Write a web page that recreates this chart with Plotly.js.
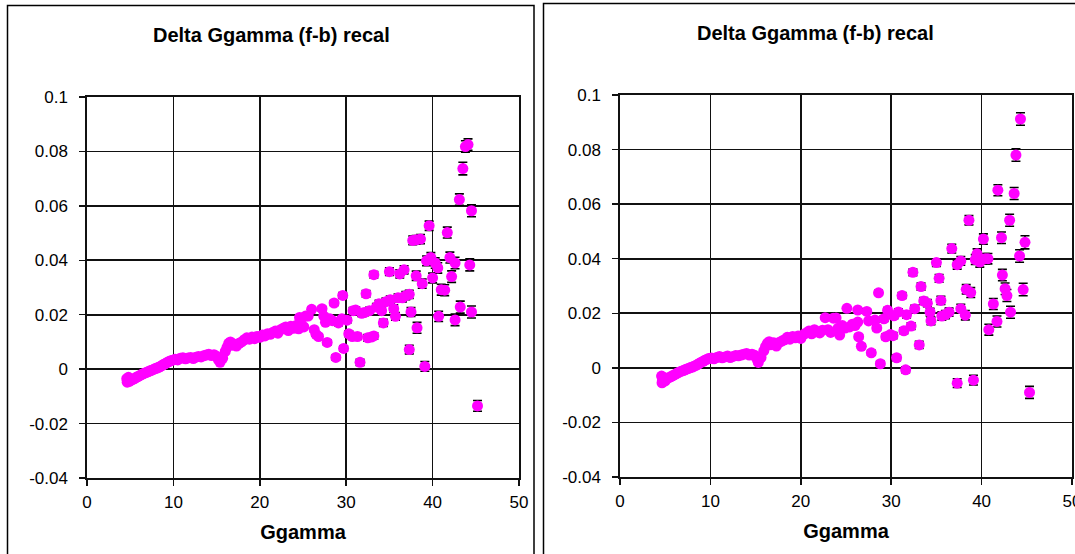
<!DOCTYPE html>
<html><head><meta charset="utf-8">
<script src="https://cdn.plot.ly/plotly-3.0.1.min.js"></script>
<style>html,body{margin:0;padding:0;background:#fff}#chart{width:1075px;height:554px}</style>
</head><body><div id="chart"></div>
<script>
const chartTitle = "Delta Ggamma (f-b) recal";
const xAxisTitle = "Ggamma";
const xTickVals = [0, 10, 20, 30, 40, 50];
const yTickVals = [-0.04, -0.02, 0, 0.02, 0.04, 0.06, 0.08, 0.1];
const yTickText = ["-0.04", "-0.02", "0", "0.02", "0.04", "0.06", "0.08", "0.1"];

// ---- Left panel: dense low-Ggamma band ----
const leftDenseX = [4.6,4.65,4.7,4.8,4.9,5.1,5.3,5.5,5.7,5.9,
  6.1,6.3,6.5,6.7,6.9,7.1,7.3,7.5,7.7,7.9,
  8.1,8.3,8.5,8.7,8.9,9.1,9.3,9.5,9.7,9.9,
  10.2,10.5,10.8,11.1,11.4,11.7,12.0,12.3,12.6,12.9,
  13.2,13.5,13.8,14.1,14.4,14.7,15.0,15.2,15.4,15.7,
  16.0,16.2,16.4,16.6,16.8,17.0,17.3,17.6,17.9,18.2,
  18.5,18.8,19.1,19.4,19.7,20.0,20.3,20.6,20.9,21.2,
  21.5,21.8,22.1,22.4,22.7,23.0,23.3,23.6,23.9,24.2,
  24.5,24.8,25.1];
const leftDenseY = [-0.0035,-0.0048,-0.0042,-0.0030,-0.0045,-0.0040,-0.0038,-0.0035,-0.0030,-0.0027,
  -0.0024,-0.0020,-0.0017,-0.0014,-0.0012,-0.0009,-0.0006,-0.0004,-0.0001,0.0002,
  0.0004,0.0007,0.0010,0.0014,0.0018,0.0021,0.0025,0.0028,0.0031,0.0033,
  0.0036,0.0034,0.0040,0.0042,0.0038,0.0041,0.0043,0.0039,0.0044,0.0046,
  0.0045,0.0049,0.0052,0.0055,0.0050,0.0053,0.0047,0.0035,0.0025,0.0040,
  0.0065,0.0080,0.0095,0.0100,0.0088,0.0092,0.0085,0.0095,0.0100,0.0108,
  0.0115,0.0110,0.0118,0.0112,0.0120,0.0117,0.0125,0.0122,0.0130,0.0128,
  0.0135,0.0140,0.0132,0.0145,0.0150,0.0155,0.0142,0.0158,0.0150,0.0160,
  0.0148,0.0165,0.0155];
const leftDenseErr = 0.0005;

// ---- Left panel: scattered high-Ggamma points ----
const leftOuterX = [24.6,25.3,25.6,26.0,26.3,26.5,26.8,27.2,27.4,27.6,
  27.8,28.1,28.4,28.6,28.8,29.1,29.5,29.6,29.7,30.1,
  30.3,30.7,30.8,31.1,31.3,31.6,31.8,32.1,32.3,32.5,
  32.7,32.9,33.2,33.2,33.5,33.8,34.1,34.3,34.6,35.0,
  35.1,35.5,35.7,36.0,36.2,36.5,36.7,36.9,37.3,37.3,
  37.5,37.7,38.1,38.1,38.2,38.6,38.8,39.1,39.3,39.6,
  39.8,40.0,40.3,40.6,40.7,41.0,41.4,41.7,42.0,42.2,
  42.6,42.6,43.1,43.2,43.5,43.8,44.1,44.3,44.5,44.5,
  45.2];
const leftOuterY = [0.0190,0.0195,0.0195,0.0220,0.0145,0.0128,0.0120,0.0222,0.0195,0.0172,
  0.0098,0.0185,0.0178,0.0243,0.0043,0.0170,0.0185,0.0271,0.0076,0.0180,
  0.0130,0.0120,0.0215,0.0217,0.0120,0.0025,0.0205,0.0208,0.0277,0.0115,
  0.0215,0.0118,0.0122,0.0347,0.0228,0.0240,0.0215,0.0170,0.0248,0.0358,
  0.0255,0.0222,0.0194,0.0262,0.0350,0.0262,0.0365,0.0270,0.0275,0.0072,
  0.0210,0.0473,0.0475,0.0343,0.0152,0.0478,0.0314,0.0010,0.0398,0.0527,
  0.0410,0.0335,0.0390,0.0372,0.0194,0.0292,0.0290,0.0502,0.0410,0.0340,
  0.0390,0.0181,0.0623,0.0228,0.0737,0.0818,0.0825,0.0383,0.0582,0.0210,
  -0.0135];
const leftOuterErr = [0.0006,0.0006,0.0006,0.0007,0.0007,0.0007,0.0008,0.0008,0.0008,0.0008,
  0.0009,0.0009,0.0009,0.0009,0.0009,0.0010,0.0010,0.0010,0.0010,0.0010,
  0.0011,0.0011,0.0011,0.0011,0.0011,0.0011,0.0011,0.0012,0.0012,0.0012,
  0.0012,0.0012,0.0012,0.0012,0.0013,0.0013,0.0013,0.0013,0.0013,0.0014,
  0.0014,0.0014,0.0014,0.0014,0.0015,0.0015,0.0015,0.0015,0.0015,0.0016,
  0.0016,0.0016,0.0016,0.0017,0.0020,0.0017,0.0017,0.0018,0.0018,0.0017,
  0.0018,0.0018,0.0019,0.0019,0.0019,0.0020,0.0020,0.0020,0.0020,0.0021,
  0.0021,0.0021,0.0021,0.0022,0.0023,0.0021,0.0021,0.0022,0.0022,0.0022,
  0.0020];

// ---- Right panel: dense low-Ggamma band ----
const rightDenseX = [4.6,4.65,4.7,4.8,5.0,5.2,5.4,5.6,5.8,6.0,
  6.2,6.4,6.6,6.8,7.0,7.2,7.4,7.6,7.8,8.0,
  8.2,8.4,8.6,8.8,9.0,9.2,9.4,9.6,9.8,10.1,
  10.4,10.7,11.0,11.3,11.6,11.9,12.2,12.5,12.8,13.1,
  13.4,13.7,14.0,14.3,14.6,14.9,15.1,15.3,15.6,15.9,
  16.1,16.3,16.5,16.7,17.0,17.3,17.6,17.9,18.2,18.5,
  18.8,19.1,19.4,19.7,20.0,20.3,20.6,20.9,21.2,21.5,
  21.8,22.1,22.4,22.7,23.0,23.3,23.6,23.9,24.1,24.3,
  24.6,24.9,25.1,25.4,25.7,26.0,26.3,26.3];
const rightDenseY = [-0.0030,-0.0055,-0.0045,-0.0035,-0.0048,-0.0038,-0.0036,-0.0033,-0.0029,-0.0026,
  -0.0022,-0.0018,-0.0015,-0.0012,-0.0010,-0.0007,-0.0004,-0.0002,0.0001,0.0003,
  0.0006,0.0009,0.0013,0.0017,0.0021,0.0024,0.0028,0.0031,0.0034,0.0036,
  0.0033,0.0038,0.0042,0.0037,0.0040,0.0043,0.0038,0.0042,0.0045,0.0044,
  0.0047,0.0050,0.0053,0.0047,0.0050,0.0046,0.0035,0.0020,0.0038,0.0062,
  0.0078,0.0090,0.0096,0.0085,0.0092,0.0080,0.0093,0.0098,0.0103,0.0112,
  0.0105,0.0115,0.0110,0.0117,0.0108,0.0122,0.0128,0.0135,0.0125,0.0140,
  0.0132,0.0128,0.0138,0.0184,0.0140,0.0130,0.0182,0.0183,0.0145,0.0120,
  0.0155,0.0146,0.0218,0.0150,0.0160,0.0155,0.0168,0.0212];
const rightDenseErr = 0.0005;

// ---- Right panel: scattered high-Ggamma points ----
const rightOuterX = [26.4,26.7,27.3,27.5,27.8,28.2,28.4,28.6,28.8,29.2,
  29.4,29.6,29.9,30.2,30.3,30.6,30.8,31.2,31.4,31.6,
  31.7,32.2,32.4,32.6,33.1,33.3,33.6,34.0,34.3,34.4,
  35.0,35.3,35.5,35.6,36.0,36.4,36.7,37.3,37.3,37.7,
  37.7,38.2,38.3,38.6,38.8,39.1,39.3,39.5,39.8,40.2,
  40.4,40.7,40.8,41.3,41.7,41.8,42.2,42.3,42.6,42.8,
  43.1,43.2,43.6,43.8,44.2,44.3,44.6,44.8,45.3];
const rightOuterY = [0.0114,0.0079,0.0207,0.0172,0.0055,0.0175,0.0146,0.0275,0.0015,0.0180,
  0.0114,0.0211,0.0122,0.0118,0.0191,0.0037,0.0205,0.0265,0.0136,-0.0007,
  0.0195,0.0153,0.0350,0.0217,0.0084,0.0298,0.0245,0.0237,0.0204,0.0172,
  0.0386,0.0328,0.0247,0.0190,0.0195,0.0204,0.0437,-0.0056,0.0378,0.0392,
  0.0217,0.0193,0.0288,0.0541,0.0276,-0.0045,0.0397,0.0418,0.0388,0.0472,
  0.0400,0.0400,0.0140,0.0234,0.0170,0.0651,0.0477,0.0340,0.0290,0.0265,
  0.0541,0.0204,0.0639,0.0780,0.0410,0.0912,0.0287,0.0460,-0.0090];
const rightOuterErr = [0.0008,0.0008,0.0008,0.0008,0.0009,0.0009,0.0009,0.0009,0.0009,0.0010,
  0.0010,0.0010,0.0010,0.0011,0.0011,0.0011,0.0011,0.0011,0.0011,0.0011,
  0.0012,0.0012,0.0012,0.0012,0.0013,0.0013,0.0013,0.0013,0.0014,0.0014,
  0.0014,0.0014,0.0015,0.0015,0.0015,0.0015,0.0016,0.0016,0.0016,0.0016,
  0.0016,0.0017,0.0017,0.0017,0.0018,0.0018,0.0018,0.0018,0.0019,0.0019,
  0.0019,0.0019,0.0020,0.0020,0.0020,0.0020,0.0021,0.0021,0.0021,0.0022,
  0.0022,0.0022,0.0022,0.0023,0.0023,0.0023,0.0023,0.0024,0.0022];

const FONT = "Liberation Sans, Arial, sans-serif";
const MAGENTA = "#FF00FF";

function pointTrace(x, y, err, xa, ya, isArray) {
  return {
    type: "scatter", mode: "markers", x: x, y: y, xaxis: xa, yaxis: ya,
    marker: {color: MAGENTA, size: 11, line: {width: 0}},
    error_y: isArray
      ? {type: "data", array: err, visible: true, color: "#000", thickness: 1.6, width: 4.5}
      : {type: "constant", value: err, visible: true, color: "#000", thickness: 1.2, width: 3},
    showlegend: false, hoverinfo: "x+y"
  };
}

const data = [
  pointTrace(leftDenseX, leftDenseY, leftDenseErr, "x", "y", false),
  pointTrace(leftOuterX, leftOuterY, leftOuterErr, "x", "y", true),
  pointTrace(rightDenseX, rightDenseY, rightDenseErr, "x2", "y2", false),
  pointTrace(rightOuterX, rightOuterY, rightOuterErr, "x2", "y2", true)
];

function xAxis(domain, anchor) {
  return {
    domain: domain, anchor: anchor, range: [0, 50], tickvals: xTickVals,
    showgrid: true, gridcolor: "#111", gridwidth: 1.7, zeroline: false,
    showline: true, linecolor: "#111", linewidth: 1.7, mirror: true,
    ticks: "outside", ticklen: 6, tickcolor: "#111", tickwidth: 1.5,
    ticklabelstandoff: 2, ticklabeloverflow: "allow",
    tickfont: {family: FONT, size: 17, color: "#000"},
    title: {text: xAxisTitle, standoff: 14, font: {family: FONT, size: 20, color: "#000", weight: "bold"}},
    automargin: false, fixedrange: true
  };
}
function yAxis(domain, anchor) {
  return {
    domain: domain, anchor: anchor, range: [-0.04, 0.1], tickvals: yTickVals, ticktext: yTickText,
    showgrid: true, gridcolor: "#111", gridwidth: 1.7, zeroline: false,
    showline: true, linecolor: "#111", linewidth: 1.7, mirror: true,
    ticks: "outside", ticklen: 6, tickcolor: "#111", tickwidth: 1.5,
    ticklabelstandoff: 8, ticklabeloverflow: "allow",
    tickfont: {family: FONT, size: 17, color: "#000"},
    automargin: false, fixedrange: true
  };
}

const W = 1075, H = 554;
const layout = {
  width: W, height: H,
  margin: {l: 0, r: 0, t: 0, b: 0, pad: 0},
  paper_bgcolor: "#fff", plot_bgcolor: "#fff",
  showlegend: false,
  xaxis: xAxis([87 / W, 519 / W], "y"),
  yaxis: yAxis([1 - 478 / H, 1 - 97 / H], "x"),
  xaxis2: xAxis([620 / W, 1072 / W], "y2"),
  yaxis2: yAxis([1 - 477 / H, 1 - 95 / H], "x2"),
  shapes: [
    {type: "rect", xref: "paper", yref: "paper", x0: 7.5 / W, x1: 534 / W, y0: -0.05, y1: 1 - 5.5 / H,
     line: {color: "#000", width: 1.5}, fillcolor: "rgba(0,0,0,0)", layer: "below"},
    {type: "rect", xref: "paper", yref: "paper", x0: 543.5 / W, x1: 1.02, y0: -0.05, y1: 1 - 3.5 / H,
     line: {color: "#000", width: 1.5}, fillcolor: "rgba(0,0,0,0)", layer: "below"}
  ],
  annotations: [
    {xref: "paper", yref: "paper", x: 271 / W, y: 1 - 35 / H, xanchor: "center", yanchor: "middle",
     text: chartTitle, showarrow: false, font: {family: FONT, size: 20, color: "#000", weight: "bold"}},
    {xref: "paper", yref: "paper", x: 815 / W, y: 1 - 33 / H, xanchor: "center", yanchor: "middle",
     text: chartTitle, showarrow: false, font: {family: FONT, size: 20, color: "#000", weight: "bold"}}
  ]
};

Plotly.newPlot("chart", data, layout, {displayModeBar: false, staticPlot: true});
</script>
</body></html>
